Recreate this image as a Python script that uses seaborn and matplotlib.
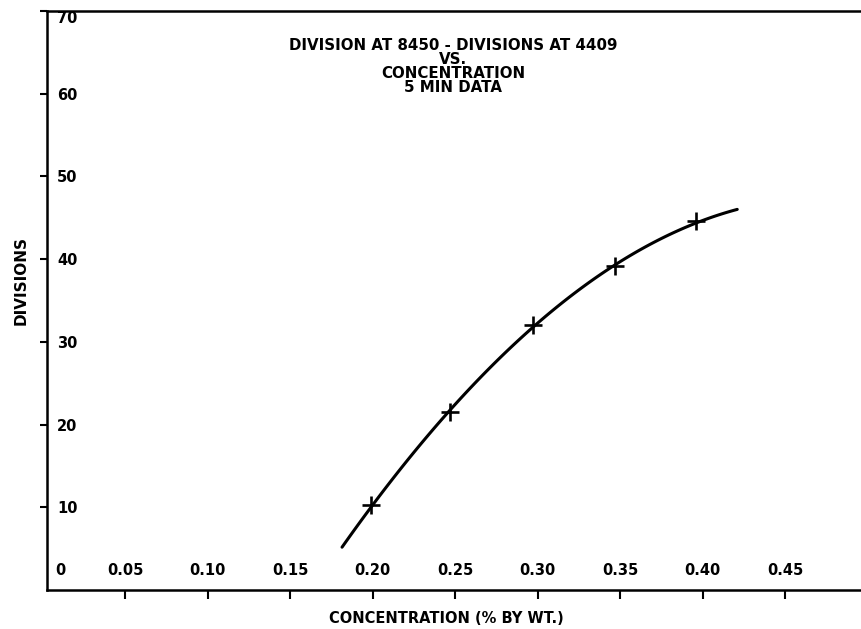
import matplotlib
matplotlib.use("Agg")
import matplotlib.pyplot as plt
import seaborn as sns
import pandas as pd

# Measured points (+ markers)
conc_points = [0.199, 0.247, 0.297, 0.347, 0.396]
div_points = [10.3, 21.5, 32.0, 39.2, 44.6]

# Hand-drawn smooth curve, points read along its length
curve_x = [0.1815, 0.199, 0.247, 0.253, 0.297, 0.336, 0.347, 0.396, 0.421]
curve_y = [5.0, 10.3, 21.5, 23.1, 32.0, 37.7, 39.2, 44.6, 45.9]

x_ticks = [0.05, 0.10, 0.15, 0.20, 0.25, 0.30, 0.35, 0.40, 0.45]
x_ticklabels = ["0.05", "0.10", "0.15", "0.20", "0.25", "0.30", "0.35", "0.40", "0.45"]
y_ticks = [10, 20, 30, 40, 50, 60, 70]
y_ticklabels = ["10", "20", "30", "40", "50", "60", "70"]

title_lines = ["DIVISION AT 8450 - DIVISIONS AT 4409", "VS.", "CONCENTRATION", "5 MIN DATA"]

sns.set_style("ticks")
plt.rcParams["font.family"] = ["DejaVu Sans"]
plt.rcParams["font.weight"] = "bold"
for k in ["text.color", "axes.labelcolor", "xtick.color", "ytick.color", "axes.edgecolor"]:
    plt.rcParams[k] = "black"

fig = plt.figure(figsize=(8.61, 6.29), dpi=100)
ax = fig.add_axes([47 / 861, 39 / 629, 814 / 861, 579 / 629])

curve_df = pd.DataFrame({"x": curve_x, "y": curve_y})
pts_df = pd.DataFrame({"x": conc_points, "y": div_points})

sns.regplot(data=curve_df, x="x", y="y", ax=ax, order=3, ci=None, scatter=False,
            truncate=True, color="black", line_kws={"linewidth": 2.2})
sns.scatterplot(data=pts_df, x="x", y="y", ax=ax, marker="+", s=160, color="black",
                linewidth=1.9, zorder=5)

ax.set_xlim(0.0027, 0.4960)
ax.set_ylim(0, 70)

ax.set_xticks(x_ticks)
ax.set_xticklabels(x_ticklabels, fontsize=10.5, fontweight="bold")
ax.set_yticks(y_ticks)
ax.set_yticklabels(y_ticklabels, fontsize=10.5, fontweight="bold")

ax.tick_params(axis="x", direction="out", length=6.5, width=1.5, pad=-26)
ax.tick_params(axis="y", direction="out", length=5, width=1.5, pad=-12.2)
for lab in ax.get_yticklabels():
    lab.set_ha("left")
top_lab = ax.get_yticklabels()[-1]
top_lab.set_va("top")

for side in ["left", "bottom", "top"]:
    ax.spines[side].set_linewidth(1.8)
ax.spines["right"].set_visible(False)

# x origin label
ax.text(0.0106, 2.3, "0", fontsize=10.5, fontweight="bold", ha="center", va="center")

ax.set_xlabel("CONCENTRATION (% BY WT.)", fontsize=10.5, fontweight="bold")
ax.xaxis.set_label_coords(0.491, -0.036)
ax.set_ylabel("DIVISIONS", fontsize=11, fontweight="bold")
ax.yaxis.set_label_coords(-0.023, 0.534)

for i, line in enumerate(title_lines):
    fig.text(453 / 861, 1 - (45 + 14 * i) / 629, line, fontsize=10.8, fontweight="bold",
             ha="center", va="center")

fig.savefig("out.png", dpi=100)
